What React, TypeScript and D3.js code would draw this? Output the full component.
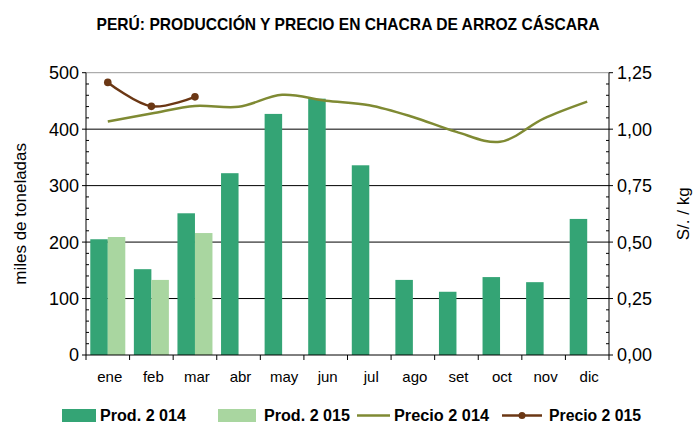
import * as React from "react";
import * as d3 from "d3";

const months = ["ene", "feb", "mar", "abr", "may", "jun", "jul", "ago", "set", "oct", "nov", "dic"];
const prod2014 = [205, 152, 251, 322, 427, 454, 336, 133, 112, 138, 129, 241];
const prod2015 = [209, 133, 216];
const precio2014 = [1.034, 1.069, 1.103, 1.099, 1.152, 1.126, 1.106, 1.054, 0.988, 0.944, 1.047, 1.122];
const precio2015 = [1.207, 1.101, 1.143];
const prodTicks = [0, 100, 200, 300, 400, 500];
const precioTicks = [0, 0.25, 0.5, 0.75, 1.0, 1.25];

const W = 694;
const H = 425;
const margin = { top: 72.7, right: 85, bottom: 70, left: 86 };
const FONT = "'Liberation Sans', Arial, sans-serif";

const C14 = "#34a475";
const C15 = "#a9d6a0";
const L14 = "#7f8a33";
const L15 = "#6b3714";

export default function App() {
  const x0 = margin.left;
  const x1 = W - margin.right;
  const y0 = H - margin.bottom;
  const y1 = margin.top;

  const x = d3.scaleBand<string>().domain(months).range([x0, x1]);
  const xs = d3.scaleBand<string>().domain(["2014", "2015"]).range([0, x.bandwidth()]).paddingOuter(0.245);
  const y = d3.scaleLinear().domain([0, 500]).range([y0, y1]);
  const yr = d3.scaleLinear().domain([0, 1.25]).range([y0, y1]);
  const cx = (m: string) => (x(m) ?? 0) + x.bandwidth() / 2;

  const line = d3.line<number>()
    .x((_, i) => cx(months[i]))
    .y((d) => yr(d))
    .curve(d3.curveCatmullRom.alpha(0.5));

  const minorL = d3.range(0, 501, 20).filter((v) => v % 100 !== 0);
  const minorR = d3.range(0, 1.2501, 0.05).filter((v) => Math.abs((v / 0.25) - Math.round(v / 0.25)) > 1e-6);

  return (
    <svg width={W} height={H} style={{ position: "absolute", left: 0, top: 0 }} fontFamily={FONT}>
      <rect width={W} height={H} fill="#fff" />
      <text x={348} y={30} textAnchor="middle" fontWeight="bold" fontSize={17}
        textLength={503} lengthAdjust="spacingAndGlyphs">
        PERÚ: PRODUCCIÓN Y PRECIO EN CHACRA DE ARROZ CÁSCARA
      </text>

      {/* gridlines */}
      {prodTicks.filter((t) => t > 0).map((t) => (
        <line key={t} x1={x0} x2={x1} y1={y(t)} y2={y(t)} stroke={t === 500 ? "#999" : "#000"} strokeWidth={1} />
      ))}

      {/* bars */}
      {prod2014.map((v, i) => (
        <rect key={"a" + i} x={(x(months[i]) ?? 0) + (xs("2014") ?? 0)} width={xs.bandwidth()}
          y={y(v)} height={y0 - y(v)} fill={C14} />
      ))}
      {prod2015.map((v, i) => (
        <rect key={"b" + i} x={(x(months[i]) ?? 0) + (xs("2015") ?? 0)} width={xs.bandwidth()}
          y={y(v)} height={y0 - y(v)} fill={C15} />
      ))}

      {/* price lines */}
      <path d={line(precio2014) ?? ""} fill="none" stroke={L14} strokeWidth={2.5} />
      <path d={line(precio2015) ?? ""} fill="none" stroke={L15} strokeWidth={2.5} />
      {precio2015.map((v, i) => (
        <circle key={i} cx={cx(months[i])} cy={yr(v)} r={3.8} fill={L15} />
      ))}

      {/* left axis */}
      <line x1={x0} x2={x0} y1={y1} y2={y0} stroke="#000" />
      {prodTicks.map((t) => (
        <g key={t}>
          <line x1={x0 - 4} x2={x0} y1={y(t)} y2={y(t)} stroke="#000" />
          <text x={x0 - 7} y={y(t)} dy="0.36em" textAnchor="end" fontSize={18}>{t}</text>
        </g>
      ))}
      {minorL.map((t) => (
        <line key={t} x1={x0} x2={x0 + 3} y1={y(t)} y2={y(t)} stroke="#000" />
      ))}

      {/* right axis */}
      <line x1={x1} x2={x1} y1={y1} y2={y0} stroke="#000" />
      {precioTicks.map((t) => (
        <g key={t}>
          <line x1={x1} x2={x1 + 4} y1={yr(t)} y2={yr(t)} stroke="#000" />
          <text x={x1 + 8} y={yr(t)} dy="0.36em" textAnchor="start" fontSize={18}>
            {t.toFixed(2).replace(".", ",")}
          </text>
        </g>
      ))}
      {minorR.map((t) => (
        <line key={t} x1={x1 - 3} x2={x1} y1={yr(t)} y2={yr(t)} stroke="#000" />
      ))}

      {/* x axis */}
      <line x1={x0} x2={x1} y1={y0} y2={y0} stroke="#000" />
      {months.map((m) => (
        <line key={"t" + m} x1={x(m) ?? 0} x2={x(m) ?? 0} y1={y0} y2={y0 + 5} stroke="#000" />
      ))}
      <line x1={x1} x2={x1} y1={y0} y2={y0 + 5} stroke="#000" />
      {months.map((m) => (
        <text key={m} x={cx(m) + 2} y={y0 + 27} textAnchor="middle" fontSize={15}>{m}</text>
      ))}

      {/* axis titles */}
      <text transform={`translate(26,${(y0 + y1) / 2}) rotate(-90)`} textAnchor="middle" fontSize={17}>
        miles de toneladas
      </text>
      <text transform={`translate(689,${(y0 + y1) / 2}) rotate(-90)`} textAnchor="middle" fontSize={17}>
        S/. / kg
      </text>

      {/* legend */}
      <g fontWeight="bold" fontSize={16}>
        <rect x={62} y={409} width={34} height={13} fill={C14} />
        <text x={100} y={421} textLength={86} lengthAdjust="spacingAndGlyphs">Prod. 2 014</text>
        <rect x={218} y={409} width={38} height={13} fill={C15} />
        <text x={264} y={421} textLength={86} lengthAdjust="spacingAndGlyphs">Prod. 2 015</text>
        <line x1={357} x2={390} y1={415.5} y2={415.5} stroke={L14} strokeWidth={2.5} />
        <text x={394} y={421} textLength={95} lengthAdjust="spacingAndGlyphs">Precio 2 014</text>
        <line x1={502} x2={542} y1={415.5} y2={415.5} stroke={L15} strokeWidth={2.5} />
        <circle cx={522} cy={415.5} r={3.5} fill={L15} />
        <text x={549} y={421} textLength={92} lengthAdjust="spacingAndGlyphs">Precio 2 015</text>
      </g>
    </svg>
  );
}
